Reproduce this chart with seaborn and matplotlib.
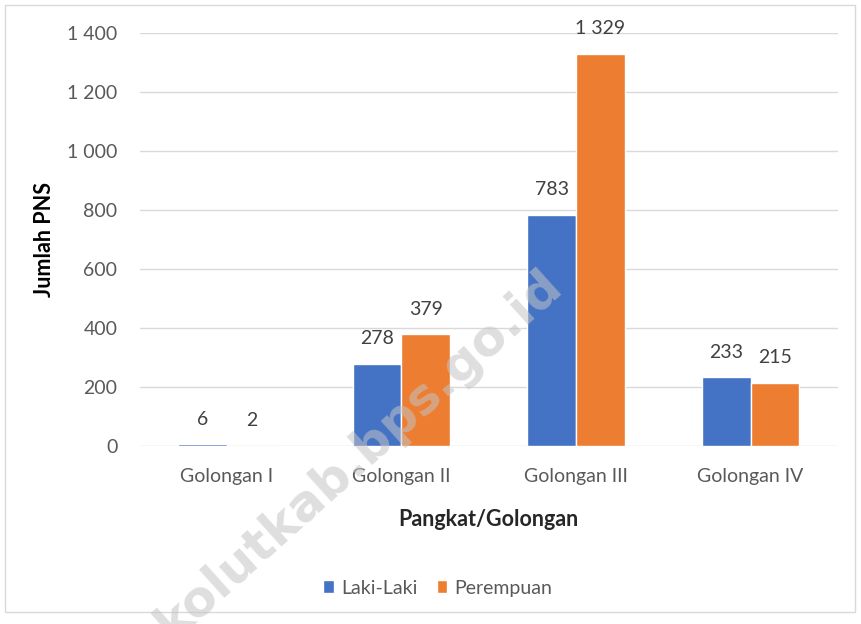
import pandas as pd
import matplotlib.pyplot as plt
import matplotlib.ticker as mticker
from matplotlib.patches import Rectangle
import seaborn as sns

# data
golongan = ['Golongan I', 'Golongan II', 'Golongan III', 'Golongan IV']
laki_laki = [6, 278, 783, 233]
perempuan = [2, 379, 1329, 215]
series_names = ['Laki-Laki', 'Perempuan']
y_ticks = [0, 200, 400, 600, 800, 1000, 1200, 1400]

df = pd.DataFrame({
    'Golongan': golongan * 2,
    'Jumlah': laki_laki + perempuan,
    'Jenis': [series_names[0]] * len(golongan) + [series_names[1]] * len(golongan),
})

sns.set_style('white')
plt.rcParams['font.family'] = ['Lato', 'DejaVu Sans']

fig = plt.figure(figsize=(8.62, 6.24), dpi=100)
ax = fig.add_axes([0.162, 0.285, 0.81, 0.662])

palette = {'Laki-Laki': '#4472C4', 'Perempuan': '#ED7D31'}
sns.barplot(data=df, x='Golongan', y='Jumlah', hue='Jenis', palette=palette,
            width=0.56, saturation=1, ax=ax, legend=True)

def fmt(v):
    return f"{v:,.0f}".replace(',', ' ')

for cont in ax.containers:
    ax.bar_label(cont, labels=[fmt(b.get_height()) for b in cont],
                 padding=12, fontsize=14, color='#404040')

ax.set_ylim(0, 1400)
ax.set_yticks(y_ticks)
ax.yaxis.set_major_formatter(mticker.FuncFormatter(lambda v, p: fmt(v)))
ax.grid(axis='y', color='#d9d9d9', linewidth=1)
ax.set_axisbelow(True)
for s in ax.spines.values():
    s.set_visible(False)
ax.tick_params(axis='both', length=0, labelsize=14, labelcolor='#595959')
ax.tick_params(axis='y', pad=16)
ax.tick_params(axis='x', pad=16)
ax.set_xlabel('Pangkat/Golongan', fontsize=15.5, fontweight='bold', color='#262626', labelpad=17)
ax.set_ylabel('Jumlah PNS', fontsize=15.5, fontweight='bold', color='#000000', labelpad=9)

leg = ax.legend(loc='center', bbox_to_anchor=(0.427, -0.344), ncol=2, frameon=False,
                fontsize=14, handlelength=0.55, handleheight=0.65, handletextpad=0.35,
                columnspacing=1.0)
for t in leg.get_texts():
    t.set_color('#595959')

# light outer frame as in the original
fig.patches.append(Rectangle((5 / 862, 12 / 624), 850 / 862, 607 / 624,
                             transform=fig.transFigure, fill=False,
                             edgecolor='#d9d9d9', linewidth=1))

# watermark
fig.text(0.416, 0.271, 'kolutkab.bps.go.id', fontsize=36, fontweight='bold',
         color='#c4c4c4', alpha=0.55, rotation=42, ha='center', va='center',
         family='DejaVu Sans', zorder=10)

fig.savefig('out.png', dpi=100)
